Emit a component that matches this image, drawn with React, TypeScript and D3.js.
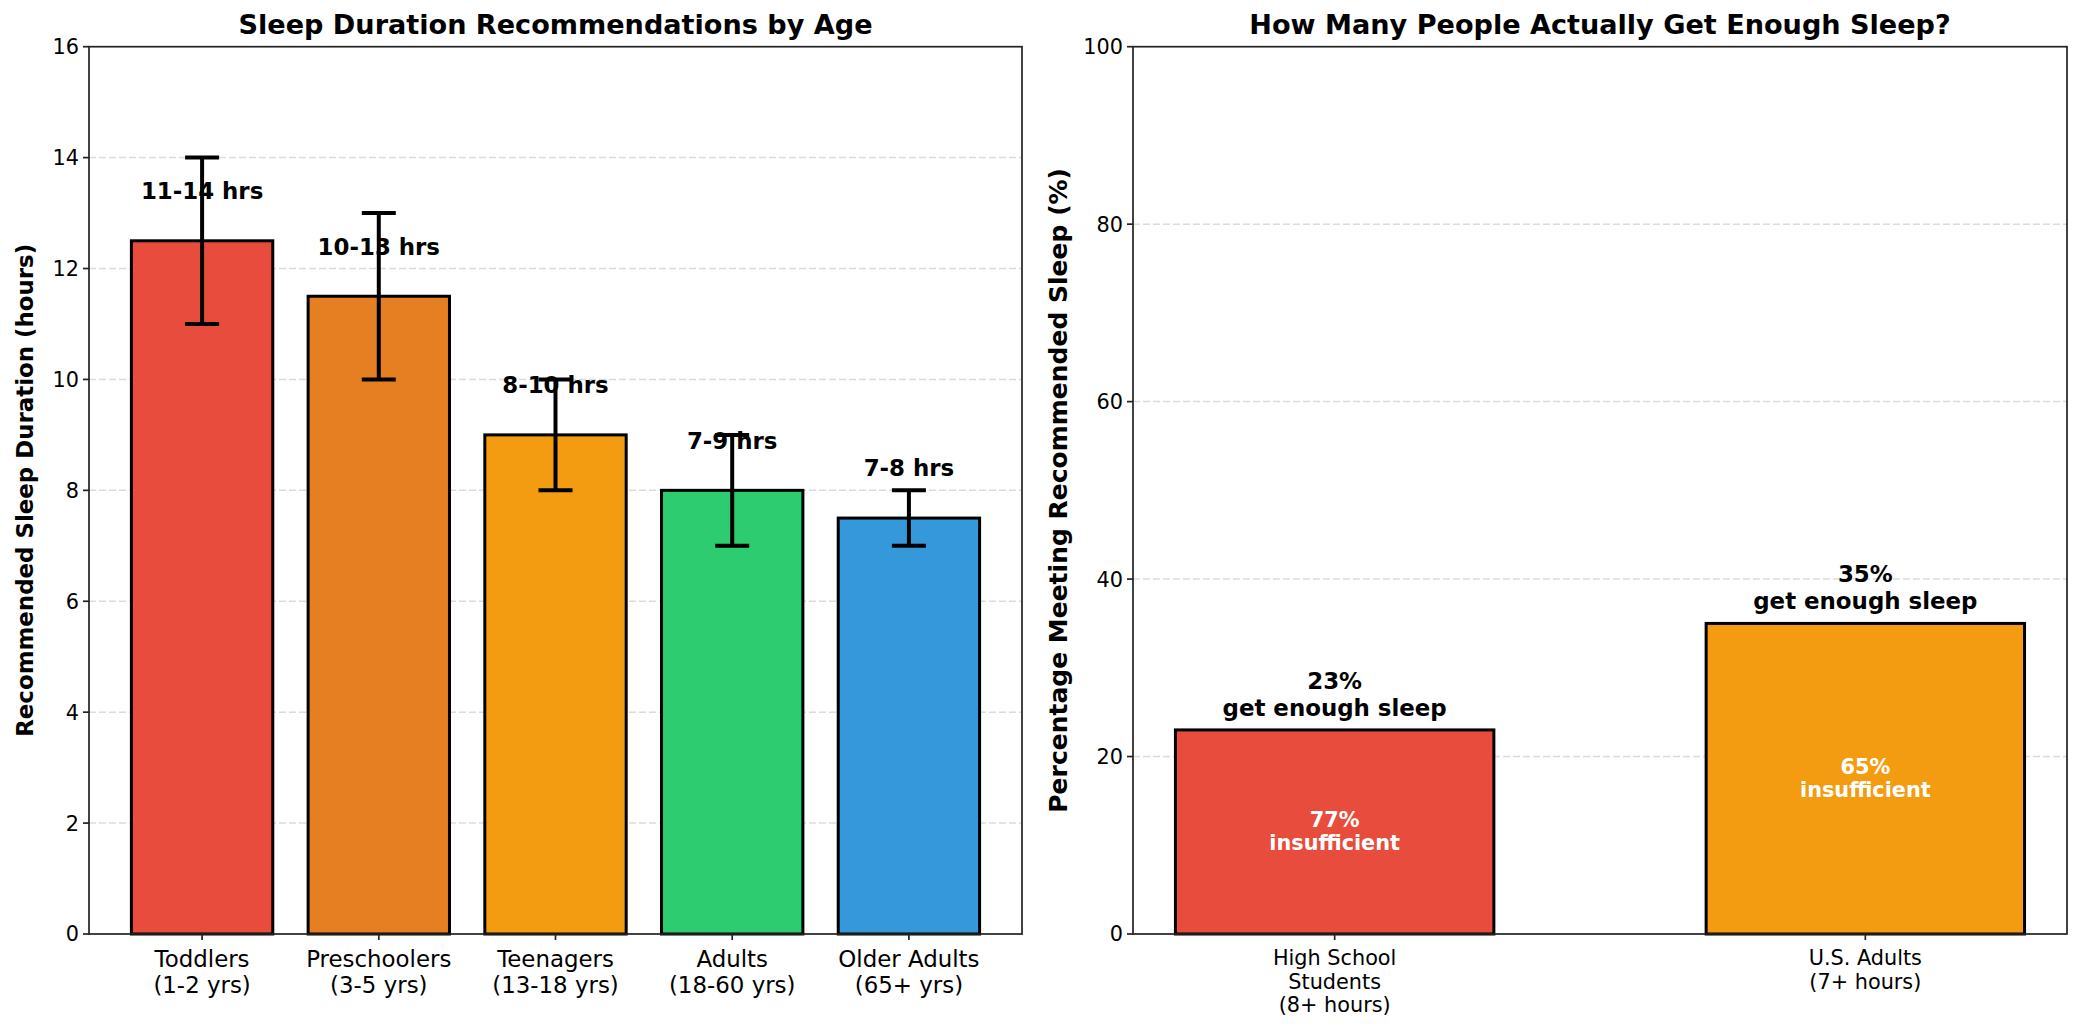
import React from "react";
import * as d3 from "d3";

// Recommended sleep ranges by age group (hours)
const ageGroups = ["Toddlers\n(1-2 yrs)", "Preschoolers\n(3-5 yrs)", "Teenagers\n(13-18 yrs)", "Adults\n(18-60 yrs)", "Older Adults\n(65+ yrs)"];
const minHours = [11, 10, 8, 7, 7];
const maxHours = [14, 13, 10, 9, 8];
const ageColors = ["#e74c3c", "#e67e22", "#f39c12", "#2ecc71", "#3498db"];
const leftTicks = [0, 2, 4, 6, 8, 10, 12, 14, 16];

// Share of people meeting the recommendation (%)
const groups = ["High School\nStudents\n(8+ hours)", "U.S. Adults\n(7+ hours)"];
const enoughPct = [23, 35];
const groupColors = ["#e74c3c", "#f39c12"];
const rightTicks = [0, 20, 40, 60, 80, 100];

const W = 2082;
const H = 1030;
const FONT = "DejaVu Sans, sans-serif";
const top = 46.7;
const bottom = 934;

const L = { x0: 89, x1: 1022 };
const R = { x0: 1133, x1: 2067 };

const TICK_FS = 20.8;
const SPINE = "#222";

function Grid({ x0, x1, yScale, ticks }: any) {
  return (
    <g>
      {ticks.slice(1, -1).map((t: number) => (
        <line key={t} x1={x0} x2={x1} y1={yScale(t)} y2={yScale(t)} stroke="#b0b0b0" strokeOpacity={0.45} strokeWidth={1.5} strokeDasharray="7,3" />
      ))}
    </g>
  );
}

function Frame({ x0, x1, yScale, ticks }: any) {
  return (
    <g>
      <rect x={x0} y={top} width={x1 - x0} height={bottom - top} fill="none" stroke={SPINE} strokeWidth={1.7} />
      {ticks.map((t: number) => (
        <g key={t}>
          <line x1={x0 - 6} x2={x0} y1={yScale(t)} y2={yScale(t)} stroke={SPINE} strokeWidth={1.7} />
          <text x={x0 - 10} y={yScale(t)} dy="0.36em" textAnchor="end" fontSize={TICK_FS} fill="#000">{t}</text>
        </g>
      ))}
    </g>
  );
}

export default function App() {
  const yL = d3.scaleLinear().domain([0, 16]).range([bottom, top]);
  const yR = d3.scaleLinear().domain([0, 100]).range([bottom, top]);
  const xL = d3.scaleBand().domain(ageGroups).range([L.x0, L.x1]).paddingInner(0.2).paddingOuter(0.24);
  const xR = d3.scaleBand().domain(groups).range([R.x0, R.x1]).paddingInner(0.4).paddingOuter(0.08);
  const mids = minHours.map((m, i) => (m + maxHours[i]) / 2);

  return (
    <svg width={W} height={H} style={{ position: "absolute", left: 0, top: 0, background: "#fff" }} fontFamily={FONT}>
      <rect width={W} height={H} fill="#fff" />

      {/* Left panel: recommended hours */}
      <Grid x0={L.x0} x1={L.x1} yScale={yL} ticks={leftTicks} />
      {ageGroups.map((g, i) => {
        const bx = xL(g)!;
        const bw = xL.bandwidth();
        const cx = bx + bw / 2;
        return (
          <g key={g}>
            <rect x={bx} y={yL(mids[i])} width={bw} height={bottom - yL(mids[i])} fill={ageColors[i]} stroke="#000" strokeWidth={3} />
            <line x1={cx} x2={cx} y1={yL(minHours[i])} y2={yL(maxHours[i])} stroke="#000" strokeWidth={4} />
            <line x1={cx - 17} x2={cx + 17} y1={yL(minHours[i])} y2={yL(minHours[i])} stroke="#000" strokeWidth={4} />
            <line x1={cx - 17} x2={cx + 17} y1={yL(maxHours[i])} y2={yL(maxHours[i])} stroke="#000" strokeWidth={4} />
            <text x={cx} y={yL(mids[i] + 0.75)} textAnchor="middle" fontSize={22.9} fontWeight="bold" fill="#000">
              {`${minHours[i]}-${maxHours[i]} hrs`}
            </text>
            <line x1={cx} x2={cx} y1={bottom} y2={bottom + 6} stroke={SPINE} strokeWidth={1.7} />
            {g.split("\n").map((ln, k) => (
              <text key={k} x={cx} y={967 + k * 26} textAnchor="middle" fontSize={22.9} fill="#000">{ln}</text>
            ))}
          </g>
        );
      })}
      <Frame x0={L.x0} x1={L.x1} yScale={yL} ticks={leftTicks} />
      <text x={(L.x0 + L.x1) / 2} y={34} textAnchor="middle" fontSize={27.1} fontWeight="bold" fill="#000">Sleep Duration Recommendations by Age</text>
      <text transform={`translate(33,${(top + bottom) / 2}) rotate(-90)`} textAnchor="middle" fontSize={22.9} fontWeight="bold" fill="#000">Recommended Sleep Duration (hours)</text>

      {/* Right panel: share getting enough sleep */}
      <Grid x0={R.x0} x1={R.x1} yScale={yR} ticks={rightTicks} />
      {groups.map((g, i) => {
        const bx = xR(g)!;
        const bw = xR.bandwidth();
        const cx = bx + bw / 2;
        const v = enoughPct[i];
        const yc = yR(v / 2);
        return (
          <g key={g}>
            <rect x={bx} y={yR(v)} width={bw} height={bottom - yR(v)} fill={groupColors[i]} stroke="#000" strokeWidth={3} />
            <text x={cx} y={yR(v) - 41} textAnchor="middle" fontSize={22.9} fontWeight="bold" fill="#000">{`${v}%`}</text>
            <text x={cx} y={yR(v) - 14} textAnchor="middle" fontSize={22.9} fontWeight="bold" fill="#000">get enough sleep</text>
            <text x={cx} y={yc - 5} textAnchor="middle" fontSize={20.8} fontWeight="bold" fill="#fff">{`${100 - v}%`}</text>
            <text x={cx} y={yc + 18} textAnchor="middle" fontSize={20.8} fontWeight="bold" fill="#fff">insufficient</text>
            <line x1={cx} x2={cx} y1={bottom} y2={bottom + 6} stroke={SPINE} strokeWidth={1.7} />
            {g.split("\n").map((ln, k) => (
              <text key={k} x={cx} y={965 + k * 23.5} textAnchor="middle" fontSize={20.8} fill="#000">{ln}</text>
            ))}
          </g>
        );
      })}
      <Frame x0={R.x0} x1={R.x1} yScale={yR} ticks={rightTicks} />
      <text x={(R.x0 + R.x1) / 2} y={34} textAnchor="middle" fontSize={27.1} fontWeight="bold" fill="#000">How Many People Actually Get Enough Sleep?</text>
      <text transform={`translate(1067,${(top + bottom) / 2}) rotate(-90)`} textAnchor="middle" fontSize={25} fontWeight="bold" fill="#000">Percentage Meeting Recommended Sleep (%)</text>
    </svg>
  );
}
